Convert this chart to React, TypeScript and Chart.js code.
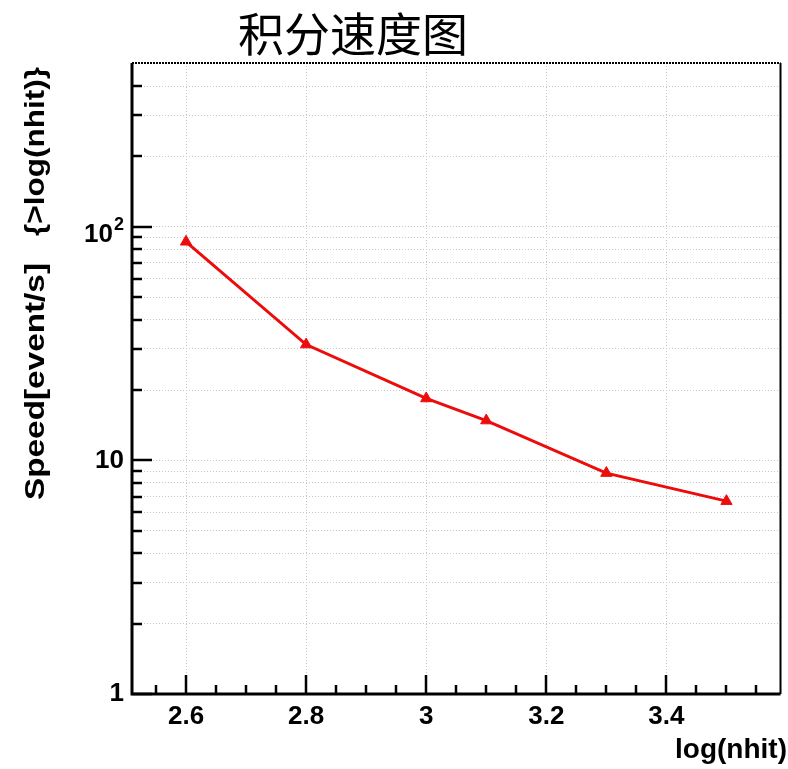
import React, { useEffect, useRef } from "react";
import { Chart, registerables } from "chart.js";

Chart.register(...registerables);

const xValues = [2.6, 2.8, 3.0, 3.1, 3.3, 3.5];
const speedValues = [86.2, 31.3, 18.4, 14.8, 8.82, 6.69];

const xMajorTicks = [2.6, 2.8, 3.0, 3.2, 3.4];
const xMajorLabels = ["2.6", "2.8", "3", "3.2", "3.4"];
const xMinorTicks = [2.55, 2.65, 2.7, 2.75, 2.85, 2.9, 2.95, 3.05, 3.1, 3.15, 3.25, 3.3, 3.35, 3.45, 3.5, 3.55];
const yTicks = [1, 2, 3, 4, 5, 6, 7, 8, 9, 10, 20, 30, 40, 50, 60, 70, 80, 90, 100, 200, 300, 400, 500];
const yMajorTicks = [1, 10, 100];
const yMajorLabels = ["1", "10", ""];
const yPowerTick = 100;
const yPowerBase = "10";
const yPowerExp = "2";

const titleText = "积分速度图";
const xTitle = "log(nhit)";
const yTitleMain = "Speed[event/s]";
const yTitleSub = "{>log(nhit)}";

const X_MIN = 2.51;
const X_MAX = 3.59;
const Y_MIN = 1;
const Y_MAX = 502;

const FONT = "'Liberation Sans', Arial, Helvetica, sans-serif";

function rotatedFit(ctx: any, text: string, cx: number, yStart: number, yEnd: number) {
  // draws text rotated -90deg, running from yStart (bottom) up to yEnd (top)
  const w = ctx.measureText(text).width;
  const s = (yStart - yEnd) / w;
  ctx.save();
  ctx.translate(cx, yStart);
  ctx.rotate(-Math.PI / 2);
  ctx.scale(s, 1);
  ctx.textAlign = "left";
  ctx.fillText(text, 0, 0);
  ctx.restore();
}

const decorPlugin = {
  id: "rootDecor",
  afterDraw(chart: any) {
    const { ctx, chartArea, scales } = chart;
    const { left, right, top, bottom } = chartArea;
    const xs = scales.x;
    const ys = scales.y;
    ctx.save();
    ctx.strokeStyle = "#000";
    ctx.lineCap = "butt";

    // inside ticks x
    ctx.lineWidth = 2.5;
    ctx.beginPath();
    xMajorTicks.forEach((v) => {
      const px = Math.round(xs.getPixelForValue(v));
      ctx.moveTo(px, bottom);
      ctx.lineTo(px, bottom - 19);
    });
    xMinorTicks.forEach((v) => {
      const px = Math.round(xs.getPixelForValue(v));
      ctx.moveTo(px, bottom);
      ctx.lineTo(px, bottom - 9);
    });
    // inside ticks y
    yTicks.forEach((v) => {
      const py = Math.round(ys.getPixelForValue(v));
      if (py < top + 2) return;
      const len = yMajorTicks.includes(v) ? 20 : 10;
      ctx.moveTo(left, py);
      ctx.lineTo(left + len, py);
    });
    ctx.stroke();

    // frame
    ctx.lineWidth = 3;
    ctx.beginPath();
    ctx.moveTo(left, top);
    ctx.lineTo(left, bottom);
    ctx.lineTo(right, bottom);
    ctx.stroke();
    ctx.lineWidth = 2;
    ctx.beginPath();
    ctx.moveTo(right, bottom);
    ctx.lineTo(right, top);
    ctx.stroke();
    ctx.setLineDash([2, 1]);
    ctx.beginPath();
    ctx.moveTo(left, top);
    ctx.lineTo(right, top);
    ctx.stroke();
    ctx.setLineDash([]);

    ctx.fillStyle = "#000";

    // power-of-ten label 10^2
    const p100 = ys.getPixelForValue(yPowerTick);
    ctx.font = "bold 18px " + FONT;
    ctx.textAlign = "right";
    ctx.textBaseline = "alphabetic";
    ctx.fillText(yPowerExp, left - 8, p100 + 3);
    const expW = ctx.measureText(yPowerExp).width;
    ctx.font = "bold 26px " + FONT;
    ctx.fillText(yPowerBase, left - 8 - expW - 1, p100 + 15);

    // title
    ctx.font = "46px 'Noto Sans CJK SC', sans-serif";
    ctx.textAlign = "center";
    ctx.textBaseline = "middle";
    ctx.fillText(titleText, 353, 34);

    // x title
    ctx.font = "bold 28px " + FONT;
    ctx.textAlign = "right";
    ctx.textBaseline = "alphabetic";
    ctx.fillText(xTitle, 787, 758);

    // y title
    ctx.font = "bold 27px " + FONT;
    ctx.textBaseline = "middle";
    rotatedFit(ctx, yTitleMain, 37, 500, 263);
    rotatedFit(ctx, yTitleSub, 37, 236, 67);

    ctx.restore();
  },
};

export default function App() {
  const ref = useRef<HTMLCanvasElement>(null);
  useEffect(() => {
    const canvas = ref.current;
    if (!canvas) return;
    const chart = new Chart(canvas, {
      type: "line",
      data: {
        datasets: [
          {
            label: "speed",
            data: xValues.map((x, i) => ({ x, y: speedValues[i] })),
            borderColor: "rgb(236,12,12)",
            backgroundColor: "rgb(236,12,12)",
            borderWidth: 3,
            pointStyle: "triangle",
            pointRadius: 6.5,
            pointBorderWidth: 1,
            tension: 0,
            fill: false,
          },
        ],
      },
      options: {
        animation: false,
        responsive: false,
        layout: { padding: { left: 0, top: 63, right: 3, bottom: 0 } },
        plugins: {
          legend: { display: false },
          title: { display: false },
          tooltip: { enabled: false },
        },
        scales: {
          x: {
            type: "linear",
            min: X_MIN,
            max: X_MAX,
            afterBuildTicks: (scale: any) => {
              scale.ticks = xMajorTicks.map((v) => ({ value: v }));
            },
            afterFit: (scale: any) => {
              scale.height = 75;
            },
            grid: { color: "#c8c8c8", lineWidth: 1, drawTicks: false },
            border: { display: false, dash: [1, 2] },
            ticks: {
              autoSkip: false,
              maxRotation: 0,
              padding: 7,
              color: "#000",
              font: { family: FONT, size: 26, weight: "bold" },
              callback: (value: any) => {
                const i = xMajorTicks.findIndex((t) => Math.abs(t - Number(value)) < 1e-6);
                return i >= 0 ? xMajorLabels[i] : "";
              },
            },
          },
          y: {
            type: "logarithmic",
            min: Y_MIN,
            max: Y_MAX,
            afterBuildTicks: (scale: any) => {
              scale.ticks = yTicks.map((v) => ({ value: v }));
            },
            afterFit: (scale: any) => {
              scale.width = 132;
            },
            grid: { color: "#c8c8c8", lineWidth: 1, drawTicks: false },
            border: { display: false, dash: [1, 2] },
            ticks: {
              autoSkip: false,
              padding: 8,
              color: "#000",
              font: { family: FONT, size: 26, weight: "bold" },
              callback: (value: any) => {
                const i = yMajorTicks.indexOf(Number(value));
                return i >= 0 ? yMajorLabels[i] : "";
              },
            },
          },
        },
      },
      plugins: [decorPlugin],
    } as any);
    return () => chart.destroy();
  }, []);
  return (
    <div style={{ position: "absolute", left: 0, top: 0, width: 788, height: 769, background: "#fff" }}>
      <canvas ref={ref} width={788} height={769} style={{ display: "block" }} />
    </div>
  );
}
